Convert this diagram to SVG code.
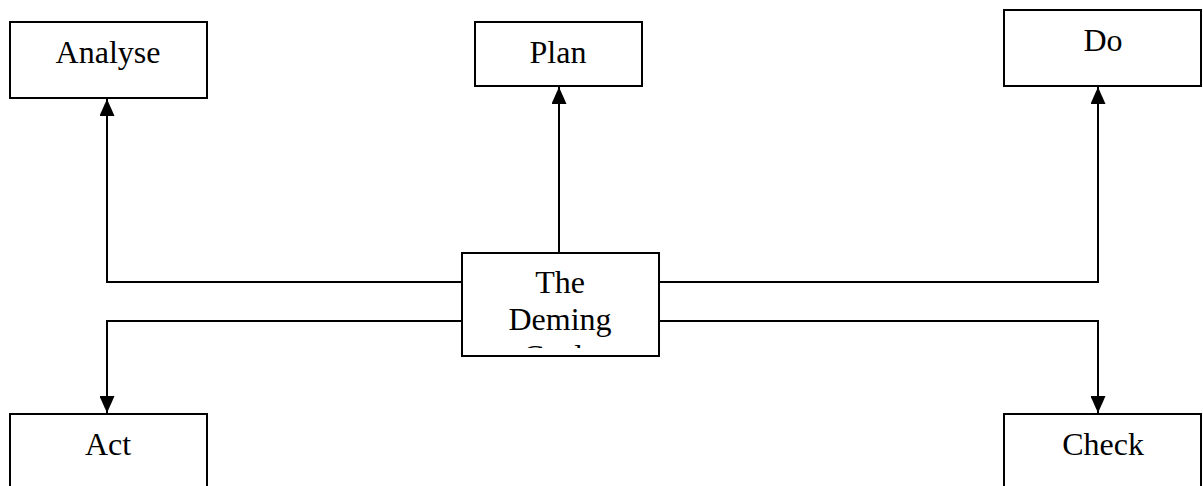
<svg xmlns="http://www.w3.org/2000/svg" width="1203" height="486" viewBox="0 0 1203 486">
<style>
.box{fill:#fff;stroke:#000;stroke-width:2}
.lbl{font-family:"Liberation Serif","Times New Roman",serif;font-size:32px;fill:#000;text-anchor:middle}
.con{fill:none;stroke:#000;stroke-width:2}
</style>
<defs>
<marker id="ah" viewBox="0 0 17 15" refX="17" refY="7.5" markerWidth="17" markerHeight="15" markerUnits="userSpaceOnUse" orient="auto">
<path d="M0,0 L17,7.5 L0,15 Z" fill="#000"/>
</marker>
<clipPath id="cclip"><rect x="462" y="253" width="197" height="95"/></clipPath>
</defs>
<g id="connectors">
<path class="con" d="M462,282 H107 V99" marker-end="url(#ah)"/>
<path class="con" d="M559,253 V87" marker-end="url(#ah)"/>
<path class="con" d="M659,282 H1098 V87" marker-end="url(#ah)"/>
<path class="con" d="M462,321 H107 V413" marker-end="url(#ah)"/>
<path class="con" d="M659,321 H1098 V413" marker-end="url(#ah)"/>
</g>
<g id="analyse"><rect class="box" x="10" y="22" width="197" height="76"/><text class="lbl" x="108" y="63">Analyse</text></g>
<g id="plan"><rect class="box" x="475" y="22" width="167" height="64"/><text class="lbl" x="558" y="63">Plan</text></g>
<g id="do"><rect class="box" x="1004" y="10" width="197" height="76"/><text class="lbl" x="1103" y="51">Do</text></g>
<g id="center"><rect class="box" x="462" y="253" width="197" height="103"/>
<g clip-path="url(#cclip)"><text class="lbl" x="560" y="293">The</text><text class="lbl" x="560" y="330">Deming</text><text class="lbl" x="560" y="367">Cycle</text></g></g>
<g id="act"><rect class="box" x="10" y="414" width="197" height="80"/><text class="lbl" x="108" y="455">Act</text></g>
<g id="check"><rect class="box" x="1004" y="414" width="197" height="80"/><text class="lbl" x="1103" y="455">Check</text></g>
</svg>
